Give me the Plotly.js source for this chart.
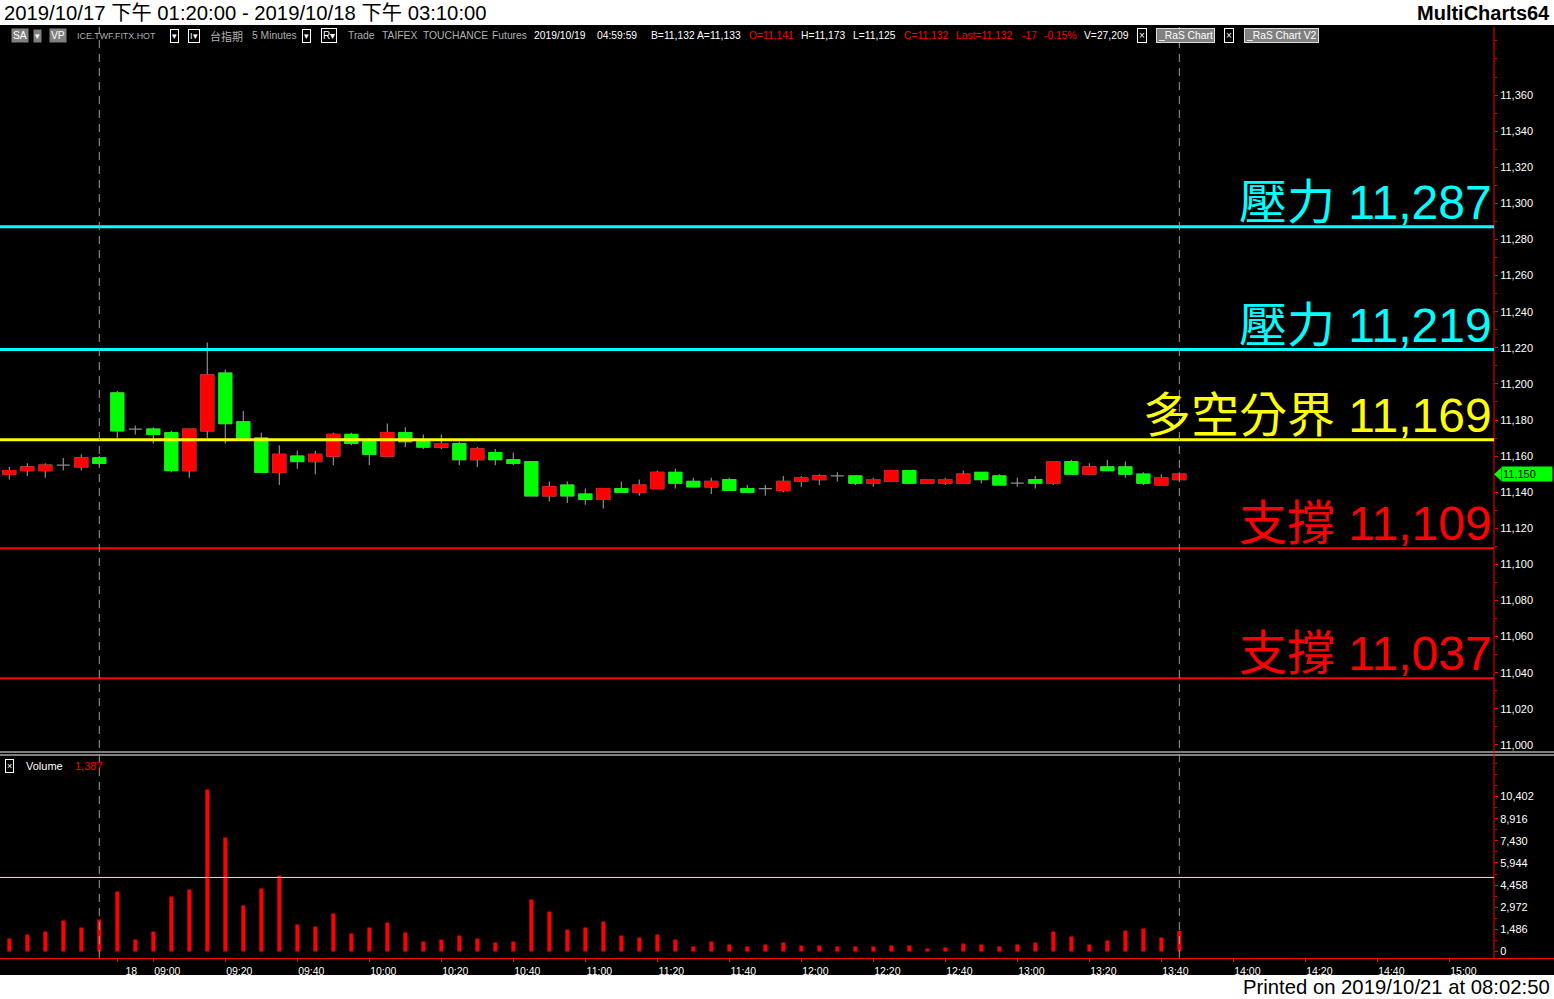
<!DOCTYPE html>
<html><head><meta charset="utf-8">
<script src="https://cdn.plot.ly/plotly-3.0.1.min.js"></script>
<style>html,body{margin:0;padding:0;background:#000;overflow:hidden}#chart{width:1554px;height:999px}</style>
</head><body><div id="chart"></div>
<script>
// ---------- data ----------
const times = ['04:35','04:40','04:45','04:50','04:55','05:00','08:50','08:55',
  '09:00','09:05','09:10','09:15','09:20','09:25','09:30','09:35','09:40','09:45','09:50','09:55',
  '10:00','10:05','10:10','10:15','10:20','10:25','10:30','10:35','10:40','10:45','10:50','10:55',
  '11:00','11:05','11:10','11:15','11:20','11:25','11:30','11:35','11:40','11:45','11:50','11:55',
  '12:00','12:05','12:10','12:15','12:20','12:25','12:30','12:35','12:40','12:45','12:50','12:55',
  '13:00','13:05','13:10','13:15','13:20','13:25','13:30','13:35','13:40','13:45'];
const opens  = [11150,11152,11152,11155,11154,11159,11195,11175,
  11175,11173,11152,11174,11206,11179,11170,11151,11160,11157,11160,11172,
  11169,11160,11173,11168,11165,11167,11158,11162,11158,11157,11138,11144,
  11139,11136,11142,11140,11142,11151,11146,11143,11147,11142,11142,11141,
  11146,11147,11149,11149,11145,11146,11152,11145,11145,11145,11151,11149,
  11145,11147,11145,11157,11150,11154,11154,11150,11144,11147];
const highs  = [11154,11156,11156,11159,11161,11160,11196,11177,
  11176,11174,11175,11223,11208,11185,11173,11166,11163,11163,11173,11173,
  11170,11178,11176,11172,11172,11168,11165,11164,11162,11157,11146,11146,
  11142,11142,11146,11147,11152,11153,11148,11148,11148,11144,11144,11149,
  11149,11150,11151,11149,11148,11152,11152,11147,11148,11152,11151,11150,
  11148,11149,11157,11158,11156,11158,11157,11151,11150,11151];
const lows   = [11147,11149,11148,11152,11152,11155,11170,11172,
  11167,11151,11148,11170,11167,11170,11151,11144,11153,11150,11155,11166,
  11155,11160,11165,11164,11164,11155,11154,11155,11155,11138,11135,11134,
  11133,11131,11140,11138,11142,11142,11143,11139,11141,11140,11138,11140,
  11143,11144,11146,11144,11143,11146,11145,11145,11144,11145,11145,11144,
  11143,11142,11144,11150,11150,11152,11148,11144,11144,11147];
const closes = [11152,11154,11155,11155,11159,11156,11174,11175,
  11172,11152,11175,11205,11178,11170,11151,11161,11157,11161,11172,11167,
  11161,11173,11168,11165,11167,11158,11164,11158,11156,11138,11143,11138,
  11136,11142,11140,11144,11151,11145,11143,11146,11141,11140,11142,11146,
  11148,11149,11149,11145,11147,11152,11145,11147,11147,11150,11147,11144,
  11145,11145,11157,11150,11154,11152,11150,11145,11148,11150];
const volumes = [872,1141,1342,2080,1611,2148,4027,805,
  1342,3691,4161,10872,7651,3087,4228,5100,1812,1678,2550,1208,
  1611,1946,1275,671,805,1074,872,604,671,3490,2684,1476,
  1611,2013,1074,940,1141,805,336,671,470,336,470,604,
  403,403,336,336,336,403,403,201,268,537,470,336,
  470,604,1342,1007,470,738,1409,1543,940,1387];

const levelNames  = ['壓力','壓力','多空分界','支撐','支撐'];
const levelValues = [11287,11219,11169,11109,11037];
const levelColors = ['#00FFFF','#00FFFF','#FFFF00','#FF0000','#FF0000'];

const priceTicks  = [11000,11020,11040,11060,11080,11100,11120,11140,11160,11180,11200,11220,11240,11260,11280,11300,11320,11340,11360];
const volumeTicks = [0,1486,2972,4458,5944,7430,8916,10402];
const xTickTimes  = ['08:50','09:00','09:20','09:40','10:00','10:20','10:40','11:00','11:20','11:40','12:00','12:20','12:40','13:00','13:20','13:40','14:00','14:20','14:40','15:00'];
const xTickLabels = ['18','09:00','09:20','09:40','10:00','10:20','10:40','11:00','11:20','11:40','12:00','12:20','12:40','13:00','13:20','13:40','14:00','14:20','14:40','15:00'];
const sessionEnds = ['05:00','13:45'];
const volumeRefLine = 4970;

const titleText  = '2019/10/17 下午 01:20:00 - 2019/10/18 下午 03:10:00';
const brandText  = 'MultiCharts64';
const footerText = 'Printed on 2019/10/21 at 08:02:50';

// ---------- helpers ----------
const W = 1554, H = 999;
const M = {l:0, r:60, t:27, b:41};
const PW = W - M.l - M.r, PH = H - M.t - M.b;
const px = x => (x - M.l) / PW;
const py = y => (H - M.b - y) / PH;
const mins = t => { const [h,m] = t.split(':').map(Number); return h*60+m; };
const posOf = t => {
  const i = times.indexOf(t);
  if (i >= 0) return i;
  const last = times.length - 1;
  return last + (mins(t) - mins(times[last])) / 5;
};
const idx = times.map((t,i) => i);
const fmt = v => v.toLocaleString('en-US');

const priceRange = [10996.1, 11397.7];
const volRange = [-436, 13053];
const pricePxPerUnit = (752 - 27) / (priceRange[1] - priceRange[0]);

// ---------- traces ----------
const wicks = {
  type:'candlestick', x: idx, open: opens, high: highs, low: lows, close: closes,
  xaxis:'x', yaxis:'y', whiskerwidth: 0,
  increasing:{line:{color:'#8c8c8c', width:1.2}, fillcolor:'#FF0000'},
  decreasing:{line:{color:'#8c8c8c', width:1.2}, fillcolor:'#00FF00'},
  hoverinfo:'skip', showlegend:false
};
const bodyO = opens.map((o,i) => o === closes[i] ? null : o);
const bodyC = closes.map((c,i) => c === opens[i] ? null : c);
const bodyH = opens.map((o,i) => o === closes[i] ? null : Math.max(o, closes[i]));
const bodyL = opens.map((o,i) => o === closes[i] ? null : Math.min(o, closes[i]));
const bodies = {
  type:'candlestick', x: idx, open: bodyO, high: bodyH, low: bodyL, close: bodyC,
  xaxis:'x', yaxis:'y', whiskerwidth: 0,
  increasing:{line:{color:'#FF0000', width:1}, fillcolor:'#FF0000'},
  decreasing:{line:{color:'#00FF00', width:1}, fillcolor:'#00FF00'},
  hoverinfo:'skip', showlegend:false
};
const volTrace = {
  type:'bar', x: idx, y: volumes, xaxis:'x', yaxis:'y2', width: 0.22,
  marker:{color:'#FF0000', line:{width:0}}, hoverinfo:'skip', showlegend:false
};

// ---------- shapes ----------
const shapes = [];
shapes.push({type:'rect', xref:'paper', yref:'paper', x0:px(0), x1:px(W), y0:py(25), y1:py(0), fillcolor:'#FFFFFF', line:{width:0}, layer:'below'});
shapes.push({type:'rect', xref:'paper', yref:'paper', x0:px(0), x1:px(W), y0:py(999), y1:py(975), fillcolor:'#FFFFFF', line:{width:0}, layer:'below'});
[752, 755].forEach(y => shapes.push({type:'line', xref:'paper', yref:'paper', x0:px(0), x1:px(W), y0:py(y), y1:py(y), line:{color:'#FFFFFF', width:1}}));
shapes.push({type:'line', xref:'paper', yref:'paper', x0:px(0), x1:px(W), y0:py(958.5), y1:py(958.5), line:{color:'#FF0000', width:1}});
shapes.push({type:'line', xref:'paper', yref:'paper', x0:1, x1:1, y0:py(958), y1:py(27), line:{color:'#FF0000', width:1}});
levelValues.forEach((v,i) => shapes.push({type:'line', xref:'paper', yref:'y', x0:0, x1:1, y0:v, y1:v,
  line:{color: levelColors[i], width: levelColors[i] === '#FF0000' ? 2 : 3}}));
sessionEnds.forEach(t => { const x = posOf(t); shapes.push({type:'line', xref:'x', yref:'paper', x0:x, x1:x, y0:py(958), y1:py(27),
  line:{color:'#9a9a9a', width:1, dash:'8px,6px'}}); });
shapes.push({type:'line', xref:'paper', yref:'y2', x0:0, x1:1, y0:volumeRefLine, y1:volumeRefLine, line:{color:'#FFFF00', width:1}});
const lastClose = closes[closes.length-1];
const tri = 6.5 / pricePxPerUnit;
shapes.push({type:'path', xref:'paper', yref:'y',
  path:`M ${px(1494)} ${lastClose} L ${px(1501)} ${lastClose+tri} L ${px(1501)} ${lastClose-tri} Z`,
  fillcolor:'#00FF00', line:{width:0}});

// ---------- annotations ----------
const REG = 'Liberation Sans, Arial, Noto Sans CJK TC, sans-serif';
const HS = 10.3;
const annotations = [];
function note(text, x, y, o) {
  o = o || {};
  annotations.push(Object.assign({
    text, xref:'paper', yref:'paper', x: px(x), y: py(y), xanchor:'left', yanchor:'middle',
    showarrow:false, font:{family: REG, size: HS, color:'#FFFFFF'}, borderpad:1
  }, o));
}
note(titleText, 2, 13, {font:{family: REG, size: 20.3, color:'#000000'}});
note('<b>' + brandText + '</b>', 1552, 13, {xanchor:'right', font:{family: REG, size: 20, color:'#000000'}});
note(footerText, 1552, 987, {xanchor:'right', font:{family: REG, size: 20.3, color:'#000000'}});

const GRAY = '#b0b0b0', BTN = '#808080';
const hf = c => ({family: REG, size: HS, color: c});
note('SA', 11, 36, {bgcolor: BTN, font: hf('#fff')});
note('▾', 33, 36, {bgcolor: BTN, font:{family: REG, size: 9, color:'#fff'}});
note('VP', 49, 36, {bgcolor: BTN, font: hf('#fff')});
note('ICE.TWF.FITX.HOT', 75, 36, {font:{family: REG, size: 8.9, color: GRAY}});
note('▾', 170, 36, {bordercolor:'#fff', borderwidth:1, font:{family: REG, size: 9, color:'#fff'}});
note('I▾', 188, 36, {bordercolor:'#fff', borderwidth:1, font:{family: REG, size: 9, color:'#fff'}});
note('台指期', 208, 36, {font:{family: 'Noto Sans CJK TC, sans-serif', size: 11, color: GRAY}});
note('5 Minutes', 250, 36, {font: hf(GRAY)});
note('▾', 302, 36, {bordercolor:'#fff', borderwidth:1, font:{family: REG, size: 9, color:'#fff'}});
note('R▾', 321, 36, {bordercolor:'#fff', borderwidth:1, font:{family: REG, size: 10, color:'#fff'}});
note('Trade', 346, 36, {font: hf(GRAY)});
note('TAIFEX', 380, 36, {font: hf(GRAY)});
note('TOUCHANCE', 421, 36, {font: hf(GRAY)});
note('Futures', 490, 36, {font: hf(GRAY)});
note('2019/10/19', 532, 36);
note('04:59:59', 595, 36);
note('B=11,132', 649, 36);
note('A=11,133', 695, 36);
note('O=11,141', 747, 36, {font: hf('#FF0000')});
note('H=11,173', 799, 36);
note('L=11,125', 851, 36);
note('C=11,132', 902, 36, {font: hf('#FF0000')});
note('Last=11,132', 954, 36, {font: hf('#FF0000')});
note('-17', 1020, 36, {font: hf('#FF0000')});
note('-0.15%', 1042, 36, {font: hf('#FF0000')});
note('V=27,209', 1082, 36);
note('×', 1137, 36, {bordercolor:'#fff', borderwidth:1, font:{family: REG, size: 10, color:'#fff'}});
note('_RaS Chart', 1156, 36, {bgcolor: BTN, bordercolor:'#ddd', borderwidth:1, font: hf('#fff')});
note('×', 1224, 36, {bordercolor:'#fff', borderwidth:1, font:{family: REG, size: 10, color:'#fff'}});
note('_RaS Chart V2', 1244, 36, {bgcolor: BTN, bordercolor:'#ddd', borderwidth:1, font: hf('#fff')});

// volume legend
note('×', 5, 766, {bordercolor:'#fff', borderwidth:1, font:{family: REG, size: 9, color:'#fff'}});
note('Volume', 24, 766, {font:{family: REG, size: 11, color:'#FFFFFF'}});
note(fmt(volumes[volumes.length-1]), 73, 766, {font:{family: REG, size: 11, color:'#FF0000'}});

// level labels
levelValues.forEach((v,i) => annotations.push({
  text: levelNames[i] + ' ' + fmt(v), xref:'paper', yref:'y', x: px(1494), y: v,
  xanchor:'right', yanchor:'bottom', yshift: -4, showarrow:false,
  font:{family: REG, size: 48, color: levelColors[i]}
}));

// last price tag
annotations.push({text: fmt(lastClose), xref:'paper', yref:'y', x: px(1501), y: lastClose,
  xanchor:'left', yanchor:'middle', showarrow:false, bgcolor:'#00FF00', width: 48, align:'left', borderpad:1,
  font:{family: REG, size: 11, color:'#000000'}});

// ---------- layout ----------
const layout = {
  width: W, height: H, margin: M,
  paper_bgcolor:'#000000', plot_bgcolor:'#000000',
  showlegend:false, hovermode:false, dragmode:false,
  boxgap: 0.28, boxgroupgap: 0,
  xaxis:{
    anchor:'y2', domain:[0,1], range:[-0.517, 82.48],
    tickmode:'array', tickvals: xTickTimes.map(posOf), ticktext: xTickLabels,
    ticks:'outside', ticklen:3, tickcolor:'#FF0000', ticklabelshift: 14,
    tickfont:{family: REG, size: 10.5, color:'#FFFFFF'},
    showgrid:false, zeroline:false, showline:false,
    rangeslider:{visible:false}, fixedrange:true
  },
  yaxis:{
    domain:[py(752), 1], range: priceRange, side:'right', anchor:'x',
    tickmode:'array', tickvals: priceTicks, tickformat:',d',
    ticks:'outside', ticklen:3, tickcolor:'#FF0000',
    minor:{tickmode:'linear', tick0: 11000, dtick: 10, ticks:'outside', ticklen:2, tickcolor:'#FF0000'},
    tickfont:{family: REG, size: 11, color:'#FFFFFF'},
    showgrid:false, zeroline:false, showline:false, fixedrange:true
  },
  yaxis2:{
    domain:[0, py(757)], range: volRange, side:'right', anchor:'x',
    tickmode:'array', tickvals: volumeTicks, tickformat:',d',
    ticks:'outside', ticklen:3, tickcolor:'#FF0000',
    minor:{tickmode:'linear', tick0: 0, dtick: 743, ticks:'outside', ticklen:2, tickcolor:'#FF0000'},
    tickfont:{family: REG, size: 11, color:'#FFFFFF'},
    showgrid:false, zeroline:false, showline:false, fixedrange:true
  },
  shapes, annotations
};

Plotly.newPlot('chart', [wicks, bodies, volTrace], layout, {staticPlot:true, displayModeBar:false});
</script>
</body></html>
